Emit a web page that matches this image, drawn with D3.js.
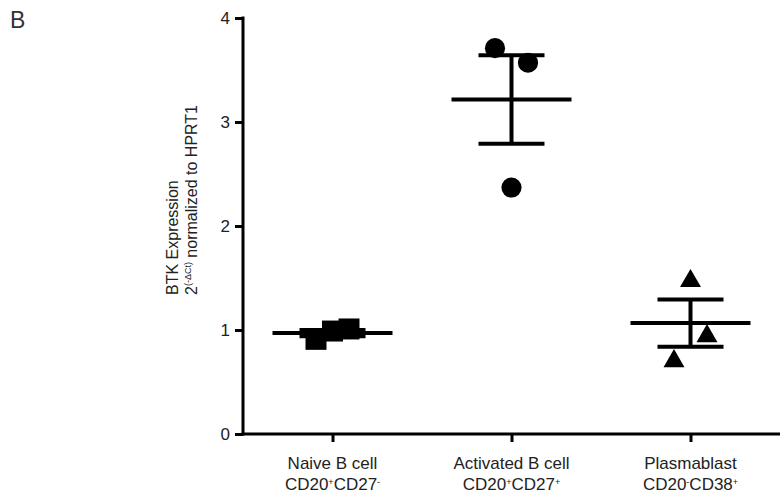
<!DOCTYPE html>
<html>
  <head>
    <meta charset="utf-8">
    <script src="https://d3js.org/d3.v7.min.js"></script>
    <style>
      body { margin: 0; background: white; }
      .axis path, .axis line { stroke: black; stroke-width: 3px; fill: none; }
      .axis text { font-family: "Liberation Sans", Arial, sans-serif; font-size: 17px; fill: #222; }
      .label { font-family: "Liberation Sans", Arial, sans-serif; font-size: 17px; fill: #222; }
    </style>
  </head>
  <body>
    <script>

      // data
      var categories = ["Naive B cell", "Activated B cell", "Plasmablast"];
      var markers = ["square", "circle", "triangle"];
      var naiveValues = [0.91, 0.99, 1.01];
      var activatedValues = [3.71, 3.57, 2.37];
      var plasmablastValues = [0.73, 0.97, 1.50];
      var yTicks = [0, 1, 2, 3, 4];

      var groups = [naiveValues, activatedValues, plasmablastValues];

      var margin = {top: 18, right: 0, bottom: 62, left: 243};
      var width = 780 - margin.left - margin.right;
      var height = 496 - margin.top - margin.bottom;

      var x = d3.scalePoint().domain(categories).range([0, width]).padding(0.5);
      var y = d3.scaleLinear().domain([0, 4]).range([height, 0]);

      var svg = d3.select("body").append("svg")
          .attr("width", 780)
          .attr("height", 496);

      svg.append("text")
          .attr("x", 10)
          .attr("y", 28)
          .style("font-family", "Liberation Sans, Arial, sans-serif")
          .style("font-size", "23px")
          .style("fill", "#333")
          .text("B");

      var g = svg.append("g")
          .attr("transform", "translate(" + margin.left + "," + margin.top + ")");

      // y axis
      g.append("g")
          .attr("class", "axis")
          .call(d3.axisLeft(y).tickValues(yTicks).tickFormat(d3.format("d")).tickSize(8).tickSizeOuter(0).tickPadding(5))
          .select(".domain").attr("d", "M0," + (height + 1.5) + "V-1.5");

      // x axis
      g.append("g")
          .attr("class", "axis")
          .attr("transform", "translate(0," + height + ")")
          .call(d3.axisBottom(x).tickSize(8).tickSizeOuter(0).tickFormat(""))
          .select(".domain").attr("d", "M-1.5,0H" + width);

      // x labels (two lines with superscripts)
      var subLines = [["CD20", "+", "CD27", "-"], ["CD20", "+", "CD27", "+"], ["CD20", "-", "CD38", "+"]];
      categories.forEach(function(c, i) {
        g.append("text")
            .attr("class", "label")
            .attr("text-anchor", "middle")
            .attr("x", x(c))
            .attr("y", height + 35)
            .text(c);
        var t2 = g.append("text")
            .attr("class", "label")
            .attr("text-anchor", "middle")
            .attr("x", x(c))
            .attr("y", height + 56);
        subLines[i].forEach(function(s, j) {
          if (j % 2 === 0) {
            t2.append("tspan").attr("dy", j === 0 ? 0 : 5).text(s);
          } else {
            t2.append("tspan").attr("dy", -5).style("font-size", "9px").text(s);
          }
        });
      });

      // y label
      var yl = svg.append("g")
          .attr("transform", "translate(178,295) rotate(-90)");
      yl.append("text")
          .attr("class", "label")
          .style("font-size", "16px")
          .attr("y", 0)
          .text("BTK Expression");
      var yl2 = yl.append("text")
          .attr("class", "label")
          .style("font-size", "16px")
          .attr("y", 19);
      yl2.append("tspan").text("2");
      yl2.append("tspan").attr("dy", -6).style("font-size", "9px").text("(-ΔCt)");
      yl2.append("tspan").attr("dy", 6).text(" normalized to HPRT1");

      // spread points that overlap vertically
      function offsets(vals) {
        var off = vals.map(function() { return 0; });
        var used = vals.map(function() { return false; });
        vals.forEach(function(v, i) {
          if (used[i]) return;
          var cluster = [i];
          vals.forEach(function(w, j) {
            if (j !== i && !used[j] && Math.abs(y(v) - y(w)) < 30) cluster.push(j);
          });
          if (cluster.length > 1) {
            var step = 16.5;
            cluster.forEach(function(k, n) {
              used[k] = true;
              off[k] = (n - (cluster.length - 1) / 2) * step * (cluster.length === 2 ? 2 : 1);
            });
          }
        });
        return off;
      }

      // triangle centred on its bounding box, like the original software
      var boxTriangle = {
        draw: function(context, size) {
          var s = Math.sqrt(size * 4 / Math.sqrt(3));
          var h = s * Math.sqrt(3) / 2;
          context.moveTo(0, -h / 2);
          context.lineTo(s / 2, h / 2);
          context.lineTo(-s / 2, h / 2);
          context.closePath();
        }
      };

      var symbolType = {square: d3.symbolSquare, circle: d3.symbolCircle, triangle: boxTriangle};
      var symbolSize = {square: 440, circle: 320, triangle: 190};

      groups.forEach(function(vals, i) {
        var cx = x(categories[i]);
        var off = offsets(vals);
        var mean = d3.mean(vals);
        var sem = d3.deviation(vals) / Math.sqrt(vals.length);

        g.selectAll(".pt" + i)
            .data(vals)
            .enter().append("path")
            .attr("class", "pt" + i)
            .attr("d", d3.symbol().type(symbolType[markers[i]]).size(symbolSize[markers[i]]))
            .attr("transform", function(d, k) {
              return "translate(" + (cx + off[k]) + "," + y(d) + ")";
            })
            .style("fill", "black");

        var eb = g.append("g").style("stroke", "black").style("stroke-width", 4);
        eb.append("line")
            .attr("x1", cx).attr("x2", cx)
            .attr("y1", y(mean + sem)).attr("y2", y(mean - sem));
        eb.append("line")
            .attr("x1", cx - 33).attr("x2", cx + 33)
            .attr("y1", y(mean + sem)).attr("y2", y(mean + sem));
        eb.append("line")
            .attr("x1", cx - 33).attr("x2", cx + 33)
            .attr("y1", y(mean - sem)).attr("y2", y(mean - sem));
        eb.append("line")
            .attr("x1", cx - 60).attr("x2", cx + 60)
            .attr("y1", y(mean)).attr("y2", y(mean));
      });

    </script>
  </body>
</html>
